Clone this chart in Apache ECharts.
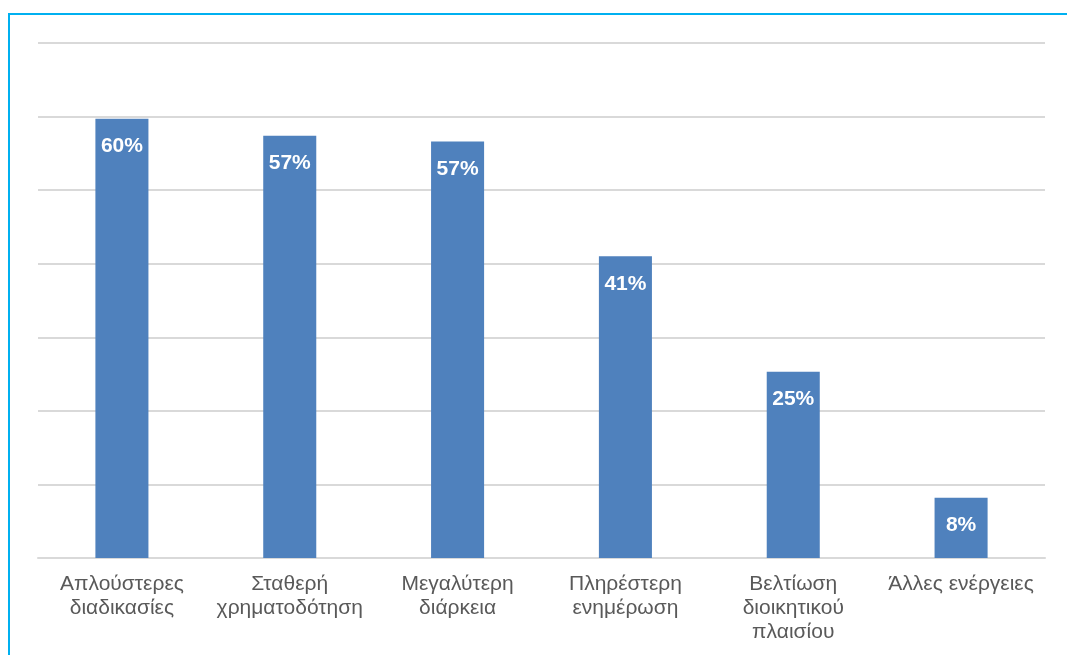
<!DOCTYPE html>
<html>
<head>
<meta charset="utf-8">
<style>
html,body{margin:0;padding:0;background:#fff;}
#chart{width:1067px;height:655px;}
</style>
<script src="https://cdn.jsdelivr.net/npm/echarts@6/dist/echarts.min.js"></script>
</head>
<body>
<div id="chart"></div>
<script>
var categories = ["Απλούστερες\nδιαδικασίες", "Σταθερή\nχρηματοδότηση", "Μεγαλύτερη\nδιάρκεια", "Πληρέστερη\nενημέρωση", "Βελτίωση\nδιοικητικού\nπλαισίου", "Άλλες ενέργειες"];
var values = [59.7, 57.4, 56.6, 41.0, 25.3, 8.2];
var labels = ["60%", "57%", "57%", "41%", "25%", "8%"];

var chart = echarts.init(document.getElementById('chart'), null, {renderer: 'canvas'});
chart.setOption({
  animation: false,
  backgroundColor: '#fff',
  graphic: [{
    type: 'polyline',
    shape: {points: [[9, 655], [9, 14], [1067, 14]]},
    style: {stroke: '#00b0f0', lineWidth: 2, fill: null},
    silent: true
  }],
  grid: {left: 38, right: 22, top: 43, bottom: 97, containLabel: false},
  xAxis: {
    type: 'category',
    data: categories,
    axisLine: {show: true, lineStyle: {color: '#d9d9d9', width: 2}},
    axisTick: {show: false},
    axisLabel: {
      color: '#595959',
      fontFamily: 'Liberation Sans, Arial, sans-serif',
      fontSize: 21,
      lineHeight: 24,
      margin: 14,
      interval: 0
    }
  },
  yAxis: {
    type: 'value',
    min: 0,
    max: 70,
    interval: 10,
    axisLabel: {show: false},
    axisLine: {show: false},
    axisTick: {show: false},
    splitLine: {lineStyle: {color: '#d9d9d9', width: 2}}
  },
  series: [{
    type: 'bar',
    data: values,
    barWidth: '31.6%',
    itemStyle: {color: '#4f81bd'},
    label: {
      show: true,
      position: 'insideTop',
      distance: 17,
      color: '#fff',
      fontWeight: 'bold',
      fontSize: 21,
      fontFamily: 'Liberation Sans, Arial, sans-serif',
      formatter: function (p) { return labels[p.dataIndex]; }
    }
  }]
});
</script>
</body>
</html>
